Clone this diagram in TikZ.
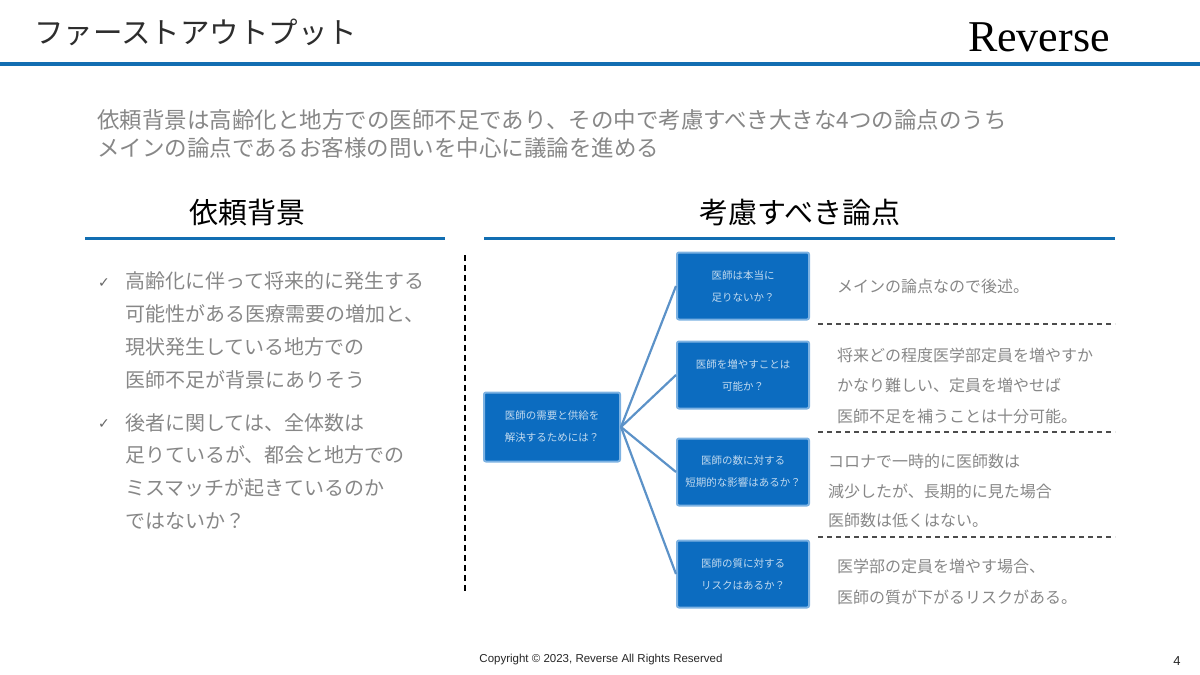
\documentclass[tikz,border=0pt]{standalone}
\usepackage{fontspec}
\setmainfont{Liberation Serif}
\newfontfamily\jp{Noto Sans CJK JP}
\newfontfamily\sym{DejaVu Sans}
\newfontfamily\ftr{Liberation Sans}
\definecolor{brandblue}{RGB}{18,110,178}
\definecolor{boxblue}{RGB}{12,108,192}
\definecolor{boxedge}{RGB}{125,178,226}
\definecolor{linkblue}{RGB}{92,146,200}
\definecolor{blurtext}{RGB}{135,135,135}
\definecolor{titletext}{RGB}{45,45,45}
\tikzset{
  fs/.style={font=\jp\fontsize{#1}{#1}\selectfont},
  txt/.style={anchor=west, inner sep=0pt, text=blurtext},
  qbox/.style={draw=boxedge, line width=2pt, fill=boxblue, rounded corners=2pt,
    minimum width=132pt, minimum height=67pt, align=center, text=white, text opacity=0.75,
    font=\jp\fontsize{10.5}{22}\selectfont, inner sep=2pt},
  link/.style={draw=linkblue, line width=2.2pt},
  sep/.style={draw=black!70, line width=1.5pt, dash pattern=on 5pt off 4pt},
  underline/.style={draw=brandblue, line width=3pt},
  heading/.style={inner sep=0pt, text=black, font=\jp\fontsize{29}{29}\selectfont},
  tick/.style={anchor=center, inner sep=0pt, text=black!60, font=\sym\fontsize{14}{14}\selectfont},
}
\begin{document}
\begin{tikzpicture}[x=1pt,y=-1pt]
\useasboundingbox (0,0) rectangle (1200,675);
% header
\node[anchor=west, inner sep=0pt, text=titletext, font=\jp\fontsize{29.5}{29.5}\selectfont] (title) at (34,32) {ファーストアウトプット};
\node[anchor=east, inner sep=0pt, text=black, font=\fontsize{44}{44}\selectfont] (brand) at (1110,37) {Reverse};
\coordinate (hl) at (0,64);
\coordinate (hr) at (1200,64);
\draw[draw=brandblue, line width=4pt] (hl) -- (hr);
% intro paragraph
\node[txt, fs=22.5] (p1) at (97,120) {依頼背景は高齢化と地方での医師不足であり、その中で考慮すべき大きな4つの論点のうち};
\node[txt, fs=22.5] (p2) at (97,148) {メインの論点であるお客様の問いを中心に議論を進める};
% headings
\node[heading] (h1) at (247,213) {依頼背景};
\node[heading] (h2) at (800,213) {考慮すべき論点};
\coordinate (u1a) at (85,238); \coordinate (u1b) at (445,238);
\coordinate (u2a) at (484,238); \coordinate (u2b) at (1115,238);
\draw[underline] (u1a) -- (u1b);
\draw[underline] (u2a) -- (u2b);
% left bullets
\node[tick] (c1) at (104,283) {✓};
\node[tick] (c2) at (104,424) {✓};
\node[txt, fs=20] (l1) at (125,281) {高齢化に伴って将来的に発生する};
\node[txt, fs=20] (l2) at (125,314) {可能性がある医療需要の増加と、};
\node[txt, fs=20] (l3) at (125,347) {現状発生している地方での};
\node[txt, fs=20] (l4) at (125,380) {医師不足が背景にありそう};
\node[txt, fs=20] (l5) at (125,423) {後者に関しては、全体数は};
\node[txt, fs=20] (l6) at (125,455) {足りているが、都会と地方での};
\node[txt, fs=20] (l7) at (125,488) {ミスマッチが起きているのか};
\node[txt, fs=20] (l8) at (125,521) {ではないか？};
% vertical divider
\coordinate (va) at (465,255); \coordinate (vb) at (465,592);
\draw[draw=black, line width=1.6pt, dash pattern=on 6pt off 4pt] (va) -- (vb);
% tree
\node[qbox, minimum width=136pt, minimum height=69pt] (root) at (552,427) {医師の需要と供給を\\解決するためには？};
\node[qbox] (b1) at (743,286) {医師は本当に\\足りないか？};
\node[qbox] (b2) at (743,375) {医師を増やすことは\\可能か？};
\node[qbox] (b3) at (743,472) {医師の数に対する\\短期的な影響はあるか？};
\node[qbox] (b4) at (743,574) {医師の質に対する\\リスクはあるか？};
\draw[link] (root.east) -- (b1.west);
\draw[link] (root.east) -- (b2.west);
\draw[link] (root.east) -- (b3.west);
\draw[link] (root.east) -- (b4.west);
% right texts
\node[txt, fs=16] (r1) at (837,286) {メインの論点なので後述。};
\coordinate (s1a) at (818,324); \coordinate (s1b) at (1115,324);
\draw[sep] (s1a) -- (s1b);
\node[txt, fs=16] (r2a) at (837,355) {将来どの程度医学部定員を増やすか};
\node[txt, fs=16] (r2b) at (837,385) {かなり難しい、定員を増やせば};
\node[txt, fs=16] (r2c) at (837,416) {医師不足を補うことは十分可能。};
\coordinate (s2a) at (818,432); \coordinate (s2b) at (1115,432);
\draw[sep] (s2a) -- (s2b);
\node[txt, fs=16] (r3a) at (828,461) {コロナで一時的に医師数は};
\node[txt, fs=16] (r3b) at (828,491) {減少したが、長期的に見た場合};
\node[txt, fs=16] (r3c) at (828,520) {医師数は低くはない。};
\coordinate (s3a) at (818,537); \coordinate (s3b) at (1115,537);
\draw[sep] (s3a) -- (s3b);
\node[txt, fs=16] (r4a) at (837,566) {医学部の定員を増やす場合、};
\node[txt, fs=16] (r4b) at (837,597) {医師の質が下がるリスクがある。};
% footer
\node[inner sep=0pt, text=black!85, font=\ftr\fontsize{11.5}{11.5}\selectfont] (copy) at (601,660) {Copyright © 2023, Reverse All Rights Reserved};
\node[inner sep=0pt, text=black!85, font=\ftr\fontsize{13}{13}\selectfont] (pg) at (1177,661) {4};
\end{tikzpicture}
\end{document}
